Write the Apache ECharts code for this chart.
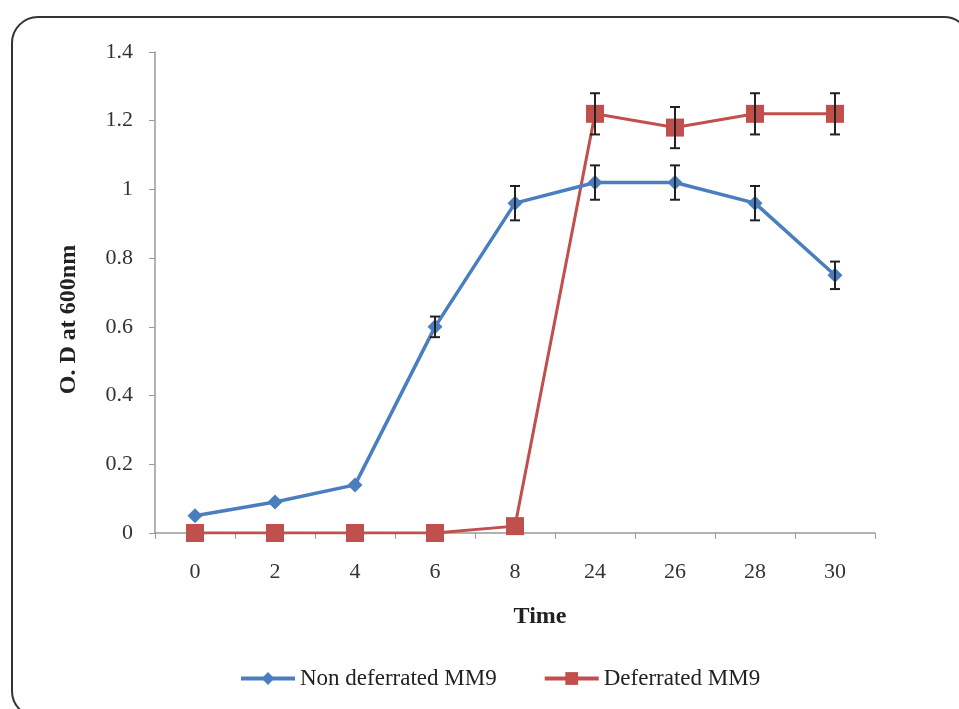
<!doctype html>
<html>
    <head>
        <meta charset="utf-8">
        <title>O.D at 600nm</title>
        <style>
            html, body { margin: 0; padding: 0; background: #fff; }
            #main { width: 959px; height: 709px; }
        </style>
    </head>
    <body>
        <div id="main"></div>
        <script src="https://cdn.jsdelivr.net/npm/echarts@6/dist/echarts.min.js"></script>
        <script>
            var times = ['0', '2', '4', '6', '8', '24', '26', '28', '30'];
            var nonDeferrated = [0.05, 0.09, 0.14, 0.60, 0.96, 1.02, 1.02, 0.96, 0.75];
            var nonDeferratedErr = [0, 0, 0, 0.03, 0.05, 0.05, 0.05, 0.05, 0.04];
            var deferrated = [0, 0, 0, 0, 0.02, 1.22, 1.18, 1.22, 1.22];
            var deferratedErr = [0, 0, 0, 0, 0, 0.06, 0.06, 0.06, 0.06];
            var yTicks = [0, 0.2, 0.4, 0.6, 0.8, 1, 1.2, 1.4];

            var font = '"Liberation Serif", "Times New Roman", serif';

            function errData(vals, errs) {
                return vals.map(function (v, i) {
                    return [i, v - errs[i], v + errs[i]];
                }).filter(function (d) { return d[2] > d[1]; });
            }

            function renderErr(params, api) {
                var lo = api.coord([api.value(0), api.value(1)]);
                var hi = api.coord([api.value(0), api.value(2)]);
                var w = 5;
                var style = { stroke: '#222', lineWidth: 2 };
                return {
                    type: 'group',
                    children: [
                        { type: 'line', shape: { x1: lo[0], y1: lo[1], x2: hi[0], y2: hi[1] }, style: style },
                        { type: 'line', shape: { x1: lo[0] - w, y1: lo[1], x2: lo[0] + w, y2: lo[1] }, style: style },
                        { type: 'line', shape: { x1: hi[0] - w, y1: hi[1], x2: hi[0] + w, y2: hi[1] }, style: style }
                    ]
                };
            }

            var chart = echarts.init(document.getElementById('main'));

            chart.setOption({
                animation: false,
                textStyle: { fontFamily: font },
                graphic: [{
                    type: 'rect',
                    shape: { x: 12, y: 17, width: 958, height: 700, r: 26 },
                    style: { fill: 'none', stroke: '#333', lineWidth: 2 },
                    silent: true,
                    z: -1
                }],
                grid: { left: 155, right: 84, top: 52, bottom: 176 },
                legend: {
                    top: 662,
                    left: 234,
                    itemWidth: 54,
                    itemHeight: 16,
                    itemGap: 46,
                    textStyle: { fontFamily: font, fontSize: 23, color: '#222' },
                    data: [
                        { name: 'Non deferrated MM9', itemStyle: { color: '#4a7ebf' }, lineStyle: { color: '#4a7ebf', width: 4 } },
                        { name: 'Deferrated MM9', itemStyle: { color: '#c0504d' }, lineStyle: { color: '#c0504d', width: 4 } }
                    ]
                },
                xAxis: {
                    type: 'category',
                    data: times,
                    boundaryGap: true,
                    name: 'Time',
                    nameLocation: 'middle',
                    nameGap: 72,
                    nameTextStyle: {
                        fontFamily: font, fontSize: 24, fontWeight: 'bold', color: '#222',
                        padding: [0, 0, 0, 50]
                    },
                    axisLine: { lineStyle: { color: '#999', width: 1.5 } },
                    axisTick: { show: true, inside: false, length: 6, lineStyle: { color: '#999' } },
                    axisLabel: { fontFamily: font, fontSize: 22, color: '#333', margin: 28 },
                    splitLine: { show: false }
                },
                yAxis: {
                    type: 'value',
                    min: 0,
                    max: 1.4,
                    interval: 0.2,
                    name: 'O. D at 600nm',
                    nameLocation: 'middle',
                    nameGap: 74,
                    nameTextStyle: {
                        fontFamily: font, fontSize: 24, fontWeight: 'bold', color: '#222',
                        padding: [0, 54, 0, 0]
                    },
                    axisLine: { show: true, lineStyle: { color: '#999', width: 1.5 } },
                    axisTick: { show: true, inside: false, length: 6, lineStyle: { color: '#999' } },
                    axisLabel: {
                        fontFamily: font, fontSize: 22, color: '#333', margin: 22,
                        formatter: function (v) {
                            var s = yTicks.find(function (t) { return Math.abs(t - v) < 1e-6; });
                            return String(s !== undefined ? s : v);
                        }
                    },
                    splitLine: { show: false }
                },
                series: [
                    {
                        name: 'Non deferrated MM9',
                        type: 'line',
                        data: nonDeferrated,
                        symbol: 'diamond',
                        symbolSize: 15,
                        itemStyle: { color: '#4a7ebf' },
                        lineStyle: { color: '#4a7ebf', width: 3.5 },
                        z: 3
                    },
                    {
                        name: 'Deferrated MM9',
                        type: 'line',
                        data: deferrated,
                        symbol: 'rect',
                        symbolSize: 18,
                        itemStyle: { color: '#c0504d' },
                        lineStyle: { color: '#c0504d', width: 3 },
                        z: 2
                    },
                    {
                        type: 'custom',
                        renderItem: renderErr,
                        data: errData(nonDeferrated, nonDeferratedErr),
                        z: 4,
                        silent: true
                    },
                    {
                        type: 'custom',
                        renderItem: renderErr,
                        data: errData(deferrated, deferratedErr),
                        z: 4,
                        silent: true
                    }
                ]
            });

            window.addEventListener('resize', function () {
                chart.resize();
            });
        </script>
    </body>
</html>
